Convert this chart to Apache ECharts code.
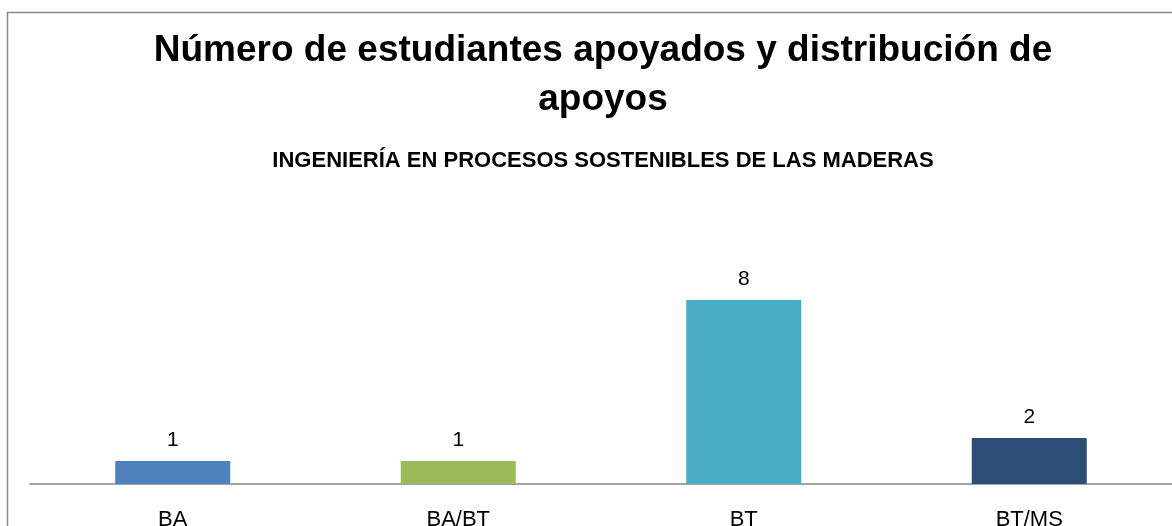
<!DOCTYPE html>
<html>
<head>
<meta charset="utf-8">
<script src="https://cdn.jsdelivr.net/npm/echarts@6/dist/echarts.min.js"></script>
<style>
  html, body { margin: 0; padding: 0; background: #fff; }
  #chart { width: 1172px; height: 526px; }
</style>
</head>
<body>
<div id="chart"></div>
<script>
const categories = ['BA', 'BA/BT', 'BT', 'BT/MS'];
const values = [1, 1, 8, 2];
const barColors = ['#4F81BD', '#9BBB59', '#4BACC6', '#2C4D75'];

const titleLines = ['Número de estudiantes apoyados y distribución de', 'apoyos'];
const subtitle = 'INGENIERÍA EN PROCESOS SOSTENIBLES DE LAS MADERAS';

const chart = echarts.init(document.getElementById('chart'));

const font = 'Liberation Sans';

function headText(text, y, size) {
  return {
    type: 'text',
    x: 603,
    y: y,
    style: {
      text: text,
      align: 'center',
      verticalAlign: 'middle',
      font: 'bold ' + size + 'px "' + font + '"',
      fill: '#000'
    }
  };
}

const option = {
  backgroundColor: '#fff',
  animation: false,
  graphic: [
    {
      type: 'rect',
      left: 5,
      top: 10,
      shape: { width: 1250, height: 600 },
      style: { fill: 'none', stroke: '#898989', lineWidth: 1.5 }
    },
    headText(titleLines[0], 51, 37),
    headText(titleLines[1], 100, 37),
    headText(subtitle, 161, 22)
  ],
  grid: {
    left: 30,
    right: 0,
    top: 254,
    bottom: 42,
    outerBoundsMode: 'none',
    containLabel: false
  },
  xAxis: {
    type: 'category',
    data: categories,
    axisLine: { lineStyle: { color: '#868686', width: 1.5 } },
    axisTick: { show: false },
    axisLabel: {
      margin: 25,
      fontFamily: font,
      fontSize: 22,
      color: '#000'
    }
  },
  yAxis: {
    type: 'value',
    min: 0,
    max: 10,
    show: false,
    splitLine: { show: false }
  },
  series: [
    {
      type: 'bar',
      barWidth: 115,
      data: values.map((v, i) => ({ value: v, itemStyle: { color: barColors[i] } })),
      label: {
        show: true,
        position: 'top',
        distance: 10,
        fontFamily: font,
        fontSize: 21,
        color: '#000'
      }
    }
  ]
};

chart.setOption(option);
</script>
</body>
</html>
